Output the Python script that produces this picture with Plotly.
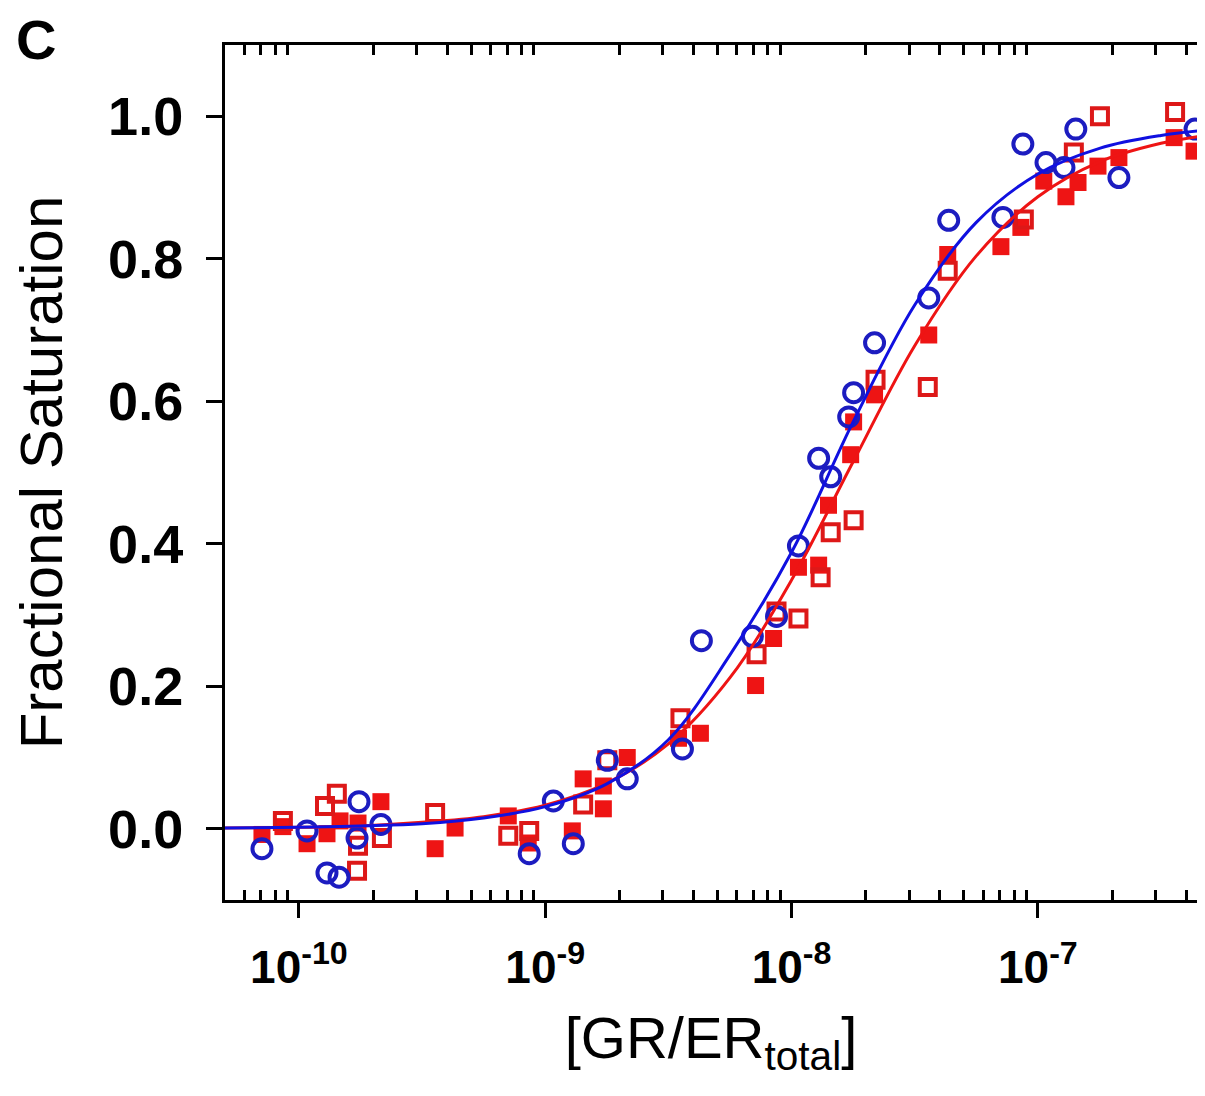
import plotly.graph_objects as go

# ---------------- data (log10 of concentration, fractional saturation) ----------------
blue_logx = [-10.150, -9.967, -9.886, -9.837, -9.756, -9.764, -9.667, -9.065, -8.967, -8.886,
             -8.748, -8.667, -8.443, -8.366, -8.159, -8.061, -7.972, -7.890, -7.841, -7.768,
             -7.748, -7.663, -7.443, -7.362, -7.142, -7.061, -6.967, -6.894, -6.846, -6.671,
             -6.362]
blue_y = [-0.028, -0.003, -0.062, -0.068, 0.038, -0.013, 0.006, -0.035, 0.039, -0.021,
          0.096, 0.070, 0.112, 0.264, 0.270, 0.298, 0.397, 0.520, 0.494, 0.578,
          0.612, 0.682, 0.745, 0.854, 0.858, 0.961, 0.935, 0.928, 0.982, 0.914,
          0.982]

red_filled_logx = [-10.150, -10.065, -9.967, -9.886, -9.833, -9.760, -9.667, -9.447, -9.366, -9.150,
                   -9.069, -8.890, -8.846, -8.764, -8.764, -8.667, -8.459, -8.370, -8.146, -8.073,
                   -7.972, -7.890, -7.850, -7.760, -7.748, -7.663, -7.443, -7.366, -7.150, -7.069,
                   -6.976, -6.886, -6.837, -6.756, -6.671, -6.447, -6.366]
red_filled_y = [-0.008, 0.003, -0.021, -0.007, 0.011, 0.008, 0.038, -0.028, 0.001, 0.018,
                -0.020, -0.003, 0.070, 0.060, 0.028, 0.100, 0.127, 0.134, 0.201, 0.267,
                0.367, 0.370, 0.454, 0.525, 0.571, 0.609, 0.693, 0.806, 0.817, 0.844,
                0.909, 0.887, 0.907, 0.930, 0.942, 0.970, 0.951]

red_open_logx = [-10.065, -9.894, -9.846, -9.760, -9.764, -9.663, -9.447, -9.150, -9.065, -8.846,
                 -8.748, -8.451, -8.142, -8.061, -7.972, -7.882, -7.841, -7.748, -7.659, -7.447,
                 -7.366, -7.057, -6.854, -6.748, -6.443]
red_open_y = [0.011, 0.032, 0.049, -0.024, -0.059, -0.013, 0.022, -0.010, -0.003, 0.034,
              0.096, 0.155, 0.245, 0.305, 0.295, 0.353, 0.416, 0.433, 0.630, 0.620,
              0.783, 0.855, 0.949, 1.000, 1.006]

# fitted curves
curve_logx = [-10.30, -10.00, -9.75, -9.50, -9.25, -9.00, -8.75, -8.50, -8.25, -8.00,
              -7.75, -7.50, -7.25, -7.00, -6.75, -6.50, -6.30]
blue_curve_y = [0.001, 0.002, 0.004, 0.007, 0.015, 0.031, 0.063, 0.125, 0.244, 0.388,
                0.571, 0.735, 0.851, 0.919, 0.955, 0.973, 0.981]
red_curve_y = [0.001, 0.002, 0.004, 0.009, 0.017, 0.033, 0.064, 0.119, 0.212, 0.349,
               0.515, 0.678, 0.804, 0.887, 0.936, 0.962, 0.974]

x_tick_exponents = [-10, -9, -8, -7]
y_ticks = [0.0, 0.2, 0.4, 0.6, 0.8, 1.0]

BLUE = "#1c1cc0"
BLUE_LINE = "#1010e0"
RED = "#ee1414"
RED_EDGE = "#dd1818"
FONT = "Liberation Sans, Arial, sans-serif"


def conc(vals):
    return [10 ** v for v in vals]


fig = go.Figure()
fig.add_trace(go.Scatter(x=conc(red_filled_logx), y=red_filled_y, mode="markers",
                         marker=dict(symbol="square", size=17, color=RED, line=dict(width=0)),
                         name="filled", showlegend=False))
fig.add_trace(go.Scatter(x=conc(red_open_logx), y=red_open_y, mode="markers",
                         marker=dict(symbol="square-open", size=16, color=RED_EDGE, line=dict(width=4)),
                         name="open", showlegend=False))
fig.add_trace(go.Scatter(x=conc(blue_logx), y=blue_y, mode="markers",
                         marker=dict(symbol="circle-open", size=19, color=BLUE, line=dict(width=4)),
                         name="circles", showlegend=False))
fig.add_trace(go.Scatter(x=conc(curve_logx), y=red_curve_y, mode="lines", line_shape="spline",
                         line=dict(color=RED, width=3), showlegend=False))
fig.add_trace(go.Scatter(x=conc(curve_logx), y=blue_curve_y, mode="lines", line_shape="spline",
                         line=dict(color=BLUE_LINE, width=3), showlegend=False, xaxis="x2"))

minor_vals = [k * 10.0 ** e for e in range(-11, -6) for k in range(2, 10)]
xrange_log = [-10.30, -6.354]

fig.update_layout(
    width=1189, height=1080,
    margin=dict(l=217, r=0, t=37, b=188),
    paper_bgcolor="white", plot_bgcolor="white",
    font=dict(family=FONT, color="black"),
    xaxis=dict(
        type="log", range=xrange_log, showgrid=False, zeroline=False,
        showline=True, linewidth=3, linecolor="black",
        tickmode="array", tickvals=[10.0 ** e for e in x_tick_exponents],
        ticktext=[f"<b>10<sup>{e}</sup></b>" for e in x_tick_exponents],
        ticks="outside", ticklen=15, tickwidth=2.5, tickcolor="black",
        tickfont=dict(size=46, family=FONT), ticklabelstandoff=10,
        minor=dict(tickmode="array", tickvals=minor_vals, ticks="inside",
                   ticklen=10, tickwidth=2.5, tickcolor="black", showgrid=False),
        title=dict(text="[GR/ER<sub>total</sub>]", font=dict(size=58, family=FONT), standoff=26),
    ),
    xaxis2=dict(
        type="log", range=xrange_log, overlaying="x", side="top", anchor="y",
        showgrid=False, zeroline=False, showline=True, linewidth=3, linecolor="black",
        showticklabels=False, ticks="", tickmode="array", tickvals=[],
        minor=dict(tickmode="array", tickvals=minor_vals, ticks="inside",
                   ticklen=10, tickwidth=2.5, tickcolor="black", showgrid=False),
    ),
    yaxis=dict(
        range=[-0.1, 1.1], showgrid=False, zeroline=False,
        showline=True, linewidth=3, linecolor="black",
        tickmode="array", tickvals=y_ticks, ticktext=[f"<b>{v:.1f}</b>" for v in y_ticks],
        ticks="outside", ticklen=16, tickwidth=2.5, tickcolor="black",
        tickfont=dict(size=54, family=FONT), ticklabelstandoff=12,
        title=dict(text="Fractional Saturation", font=dict(size=60, family=FONT), standoff=36),
    ),
    annotations=[dict(text="<b>C</b>", x=-0.194, y=1.006, xref="paper", yref="paper",
                      xanchor="center", yanchor="middle", showarrow=False,
                      font=dict(size=56, family=FONT, color="black"))],
)

fig.write_html("out.html")
